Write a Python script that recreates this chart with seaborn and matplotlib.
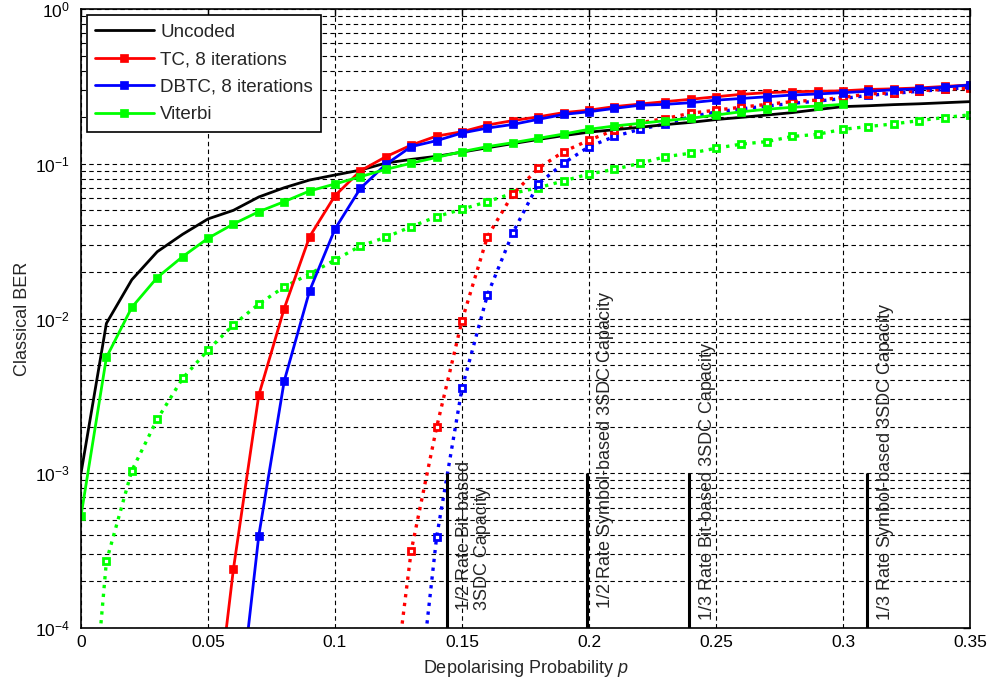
import numpy as np
import matplotlib
matplotlib.use('Agg')
import matplotlib.pyplot as plt
import seaborn as sns
from matplotlib.ticker import NullFormatter, LogLocator

sns.set_style('white')
plt.rcParams['font.family'] = ['Liberation Sans', 'DejaVu Sans']
plt.rcParams['mathtext.fontset'] = 'custom'
plt.rcParams['mathtext.rm'] = 'Liberation Sans'
plt.rcParams['mathtext.it'] = 'Liberation Sans:italic'

# ---------------- data ----------------
p = [0.00, 0.01, 0.02, 0.03, 0.04, 0.05, 0.06, 0.07, 0.08, 0.09,
     0.10, 0.11, 0.12, 0.13, 0.14, 0.15, 0.16, 0.17, 0.18, 0.19,
     0.20, 0.21, 0.22, 0.23, 0.24, 0.25, 0.26, 0.27, 0.28, 0.29,
     0.30, 0.31, 0.32, 0.33, 0.34, 0.35]

# uncoded, p = 0 ... 0.35
ber_uncoded = [1.0e-3, 9.3e-3, 0.0178, 0.027, 0.035, 0.044, 0.050, 0.061, 0.070, 0.0785,
               0.0846, 0.091, 0.101, 0.1067, 0.1117, 0.1189, 0.1268, 0.1349, 0.1435, 0.152,
               0.160, 0.166, 0.172, 0.179, 0.185, 0.193, 0.1995, 0.2065, 0.214, 0.224,
               0.234, 0.237, 0.241, 0.244, 0.248, 0.252]

# TC, 8 iterations (solid), p = 0.05 ... 0.35
ber_tc = [1.0e-5, 2.4e-4, 3.2e-3, 0.0116, 0.0338, 0.0622, 0.090, 0.111, 0.132, 0.151,
          0.161, 0.178, 0.190, 0.201, 0.214, 0.222, 0.234, 0.243, 0.252, 0.261,
          0.271, 0.281, 0.288, 0.292, 0.294, 0.296, 0.302, 0.305, 0.309, 0.316, 0.323]

# DBTC, 8 iterations (solid), p = 0.06 ... 0.35
ber_dbtc = [1.4e-5, 3.96e-4, 3.94e-3, 0.0151, 0.0379, 0.0694, 0.099, 0.129, 0.141, 0.158,
            0.170, 0.1795, 0.1936, 0.2084, 0.2168, 0.228, 0.2388, 0.242, 0.248, 0.2576,
            0.264, 0.271, 0.278, 0.2825, 0.288, 0.294, 0.3006, 0.305, 0.3126, 0.323]

# Viterbi (solid), p = 0 ... 0.30
ber_vit = [5.3e-4, 5.6e-3, 0.0118, 0.0184, 0.0251, 0.033, 0.0408, 0.049, 0.0569, 0.0667,
           0.074, 0.0825, 0.092, 0.1007, 0.110, 0.1197, 0.129, 0.1368, 0.1459, 0.1556,
           0.167, 0.1754, 0.1824, 0.1897, 0.1968, 0.2065, 0.2168, 0.2249, 0.2317, 0.236, 0.242]

# dotted curves
# Viterbi, p = 0 ... 0.35
ber_vit_d = [3.6e-6, 2.7e-4, 1.04e-3, 2.23e-3, 4.1e-3, 6.25e-3, 9.1e-3, 0.0124, 0.016, 0.0194,
             0.0239, 0.0294, 0.0335, 0.0392, 0.0455, 0.0508, 0.0569, 0.0644, 0.070, 0.0774,
             0.0859, 0.092, 0.1007, 0.111, 0.117, 0.126, 0.134, 0.139, 0.150, 0.155,
             0.167, 0.174, 0.181, 0.190, 0.199, 0.207]
# TC, p = 0.12 ... 0.35
ber_tc_d = [1.5e-5, 3.15e-4, 1.98e-3, 9.7e-3, 0.0338, 0.0635, 0.0934, 0.1197, 0.142, 0.165,
            0.184, 0.196, 0.212, 0.222, 0.232, 0.242, 0.252, 0.258, 0.2685, 0.2825,
            0.2877, 0.2965, 0.3027, 0.3076]
# DBTC, p = 0.13 ... 0.35
ber_dbtc_d = [1.3e-5, 3.86e-4, 3.54e-3, 0.0142, 0.0358, 0.074, 0.1007, 0.129, 0.150, 0.167,
              0.1807, 0.2014, 0.216, 0.2265, 0.236, 0.2455, 0.254, 0.264, 0.2767, 0.285,
              0.294, 0.302, 0.3126]

# capacity limits
cap_p = [0.1442, 0.1991, 0.2395, 0.3096]
cap_text = ['1/2 Rate Bit-based\n3SDC Capacity',
            '1/2 Rate Symbol-based 3SDC Capacity',
            '1/3 Rate Bit-based 3SDC Capacity',
            '1/3 Rate Symbol-based 3SDC Capacity']
cap_text_x = [0.1477, 0.2030, 0.2432, 0.3133]
cap_text_y = [1.31e-4, 1.35e-4, 1.13e-4, 1.13e-4]

# ---------------- plot ----------------
fig = plt.figure(figsize=(9.95, 6.84), dpi=100)
ax = fig.add_axes([81 / 995, 1 - 628 / 684, 889 / 995, 619 / 684])
ax.set_yscale('log')

RED, BLUE, GREEN = '#ff0000', '#0000ff', '#00ff00'
dot_kw = dict(ls=':', lw=2.4, marker='s', ms=4.2, mfc='white', mew=2.0)
sol_kw = dict(ls='-', lw=2.0, marker='s', ms=6.2, mew=0.5)

sns.lineplot(x=p, y=ber_vit_d, ax=ax, color=GREEN, mec=GREEN, estimator=None, **dot_kw)
sns.lineplot(x=p[13:], y=ber_dbtc_d, ax=ax, color=BLUE, mec=BLUE, estimator=None, **dot_kw)
sns.lineplot(x=p[12:], y=ber_tc_d, ax=ax, color=RED, mec=RED, estimator=None, **dot_kw)

sns.lineplot(x=p, y=ber_uncoded, ax=ax, color='black', lw=2.0, estimator=None,
             label='Uncoded')
sns.lineplot(x=p[5:], y=ber_tc, ax=ax, color=RED, mec=RED, estimator=None,
             label='TC, 8 iterations', **sol_kw)
sns.lineplot(x=p[6:], y=ber_dbtc, ax=ax, color=BLUE, mec=BLUE, estimator=None,
             label='DBTC, 8 iterations', **sol_kw)
sns.lineplot(x=p[:31], y=ber_vit, ax=ax, color=GREEN, mec=GREEN, estimator=None,
             label='Viterbi', **sol_kw)

ax.vlines(cap_p, 1e-4, 1e-3, color='black', lw=2.2, zorder=4)
for xt, yt, t in zip(cap_text_x, cap_text_y, cap_text):
    ax.text(xt, yt, t, rotation=90, ha='left', va='bottom', fontsize=13,
            multialignment='left', linespacing=1.05)

ax.set_xlim(0, 0.35)
ax.set_ylim(1e-4, 1)
ax.set_xticks([0, 0.05, 0.1, 0.15, 0.2, 0.25, 0.3, 0.35])
ax.set_xticklabels(['0', '0.05', '0.1', '0.15', '0.2', '0.25', '0.3', '0.35'])
ax.set_yticks([1e-4, 1e-3, 1e-2, 1e-1, 1])
ax.set_yticklabels([r'$10^{-4}$', r'$10^{-3}$', r'$10^{-2}$', r'$10^{-1}$', r'$10^{0}$'])
ax.yaxis.set_minor_locator(LogLocator(base=10, subs=np.arange(2, 10)))
ax.yaxis.set_minor_formatter(NullFormatter())

ax.grid(True, which='major', axis='both', ls=(0, (4, 3)), color='black', lw=0.8)
ax.grid(True, which='minor', axis='y', ls=(0, (4, 3)), color='black', lw=0.8)
ax.set_axisbelow(True)

ax.tick_params(axis='both', which='both', direction='in', top=True, right=True,
               colors='black', labelsize=12.5)
ax.tick_params(axis='both', which='major', length=5, width=1)
ax.tick_params(axis='y', which='minor', length=3, width=0.8)
ax.tick_params(axis='y', which='both', pad=8)
ax.tick_params(axis='x', which='major', pad=5)
for s in ax.spines.values():
    s.set_color('black')
    s.set_linewidth(1.2)

ax.set_xlabel('Depolarising Probability $p$', fontsize=13, labelpad=6)
ax.set_ylabel('Classical BER', fontsize=13, labelpad=3)

leg = ax.legend(loc='upper left', bbox_to_anchor=(0.0067, 0.990), borderaxespad=0,
                fontsize=13.5, handlelength=3.1, handletextpad=0.35, labelspacing=0.55,
                borderpad=0.45, fancybox=False, framealpha=1, edgecolor='black')
leg.get_frame().set_linewidth(1.2)

fig.savefig('out.png', dpi=100)
